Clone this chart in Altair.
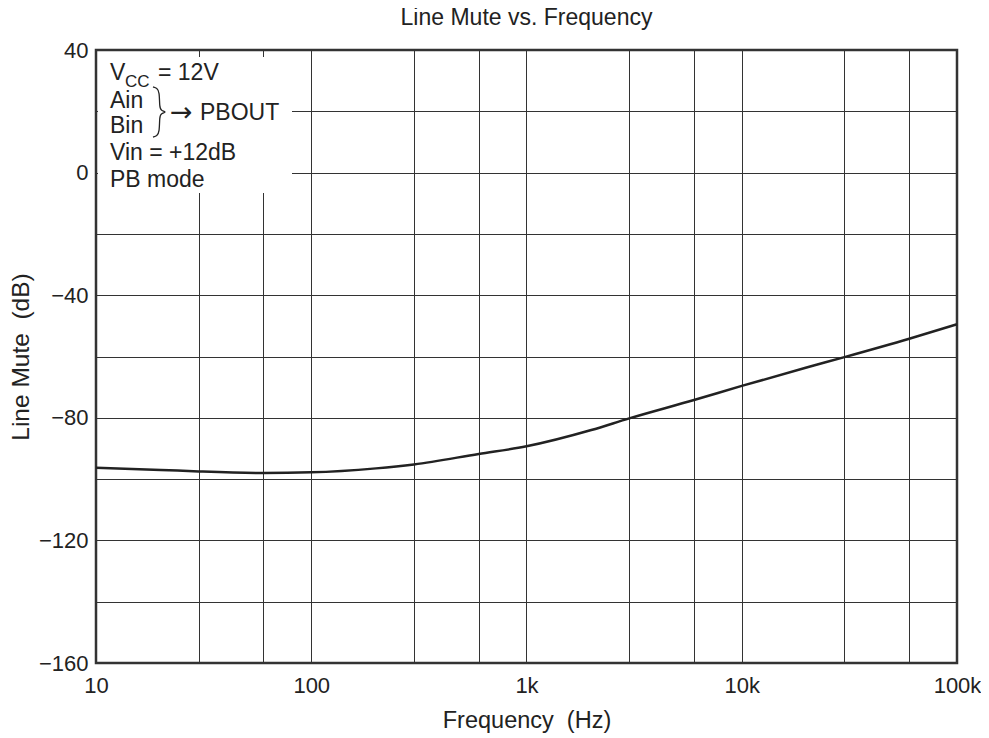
import altair as alt
import pandas as pd

# ---- data ----
freq_hz = [10, 20, 30, 60, 100, 200, 300, 600, 1000, 2000, 3000, 6000,
           10000, 20000, 30000, 60000, 100000]
line_mute_db = [-96.3, -97.0, -97.5, -98.0, -97.8, -96.5, -95.2, -91.8, -89.3,
                -84.0, -80.2, -74.2, -69.6, -63.6, -60.2, -54.2, -49.5]

x_grid = [10, 30, 60, 100, 300, 600, 1000, 3000, 6000, 10000, 30000, 60000, 100000]
y_grid = [-160, -140, -120, -100, -80, -60, -40, -20, 0, 20, 40]

chart_title = "Line Mute vs. Frequency"

ann_text = ["V", "CC", "= 12V", "Ain", "Bin", "PBOUT", "Vin = +12dB", "PB mode"]
ann_px = [14, 29, 62, 14, 14, 104, 14, 14]
ann_py = [30, 37, 30, 58, 83, 70, 110, 137]
ann_size = [23, 17, 23, 23, 23, 23, 23, 23]

# decorative brace outline (plot pixels)
brace_x = [57, 61, 63.5, 63.5, 65, 71, 65, 63.5, 63.5, 61, 57]
brace_y = [37, 38, 42, 57, 60.5, 62, 63.5, 67, 82, 86, 87]

FONT = "Liberation Sans"
INK = "#222222"
W, H = 861, 613
NB = "\u00a0"

df = pd.DataFrame({"f": freq_hz, "db": line_mute_db})

x_scale = alt.Scale(type="log", domain=[10, 100000], nice=False)
y_scale = alt.Scale(domain=[-160, 40], nice=False, zero=False)

x_label_expr = ("datum.value == 10 ? '10' : datum.value == 100 ? '100' : "
                "datum.value == 1000 ? '1k' : datum.value == 10000 ? '10k' : "
                "datum.value == 100000 ? '100k' : ''")

line = alt.Chart(df).mark_line(color=INK, strokeWidth=2.5, interpolate="monotone").encode(
    x=alt.X("f:Q", scale=x_scale,
            axis=alt.Axis(values=x_grid, labelExpr=x_label_expr, title="Frequency" + NB + NB + "(Hz)",
                          grid=True, gridColor="#333333", gridWidth=1, gridOpacity=1,
                          domain=False, ticks=False, labelPadding=12, labelFontSize=22,
                          labelFont=FONT, labelColor=INK, titleFont=FONT, titleFontSize=23.5,
                          titleFontWeight="normal", titleColor=INK, titlePadding=12,
                          labelFlush=False, labelOverlap=False)),
    y=alt.Y("db:Q", scale=y_scale,
            axis=alt.Axis(values=y_grid,
                          labelExpr="datum.value % 40 == 0 ? datum.label : ''",
                          title="Line Mute" + NB + NB + "(dB)",
                          grid=True, gridColor="#333333", gridWidth=1, gridOpacity=1,
                          domain=False, ticks=False, labelPadding=8, labelFontSize=22,
                          labelFont=FONT, labelColor=INK, titleFont=FONT, titleFontSize=24.5,
                          titleFontWeight="normal", titleColor=INK, titlePadding=5,
                          labelFlush=False, labelOverlap=False)),
)

box = alt.Chart(pd.DataFrame({"k": [0]})).mark_rect(fill="white").encode(
    x=alt.value(2), x2=alt.value(196), y=alt.value(7), y2=alt.value(143)
)

ann_df = pd.DataFrame({"t": ann_text, "px": ann_px, "py": ann_py, "s": ann_size})
ann = alt.Chart(ann_df).mark_text(align="left", baseline="alphabetic", font=FONT, color=INK).encode(
    x=alt.X("px:Q", scale=None),
    y=alt.Y("py:Q", scale=None),
    text="t:N",
    size=alt.Size("s:Q", scale=None, legend=None),
)

arrow = alt.Chart(pd.DataFrame({"t": ["\u2192"]})).mark_text(
    align="left", baseline="middle", font="DejaVu Sans", fontSize=27, color=INK
).encode(x=alt.value(74), y=alt.value(63), text="t:N")

brace_df = pd.DataFrame({"bx": brace_x, "by": brace_y, "o": list(range(len(brace_x)))})
brace = alt.Chart(brace_df).mark_line(color=INK, strokeWidth=1.3, interpolate="basis").encode(
    x=alt.X("bx:Q", scale=None),
    y=alt.Y("by:Q", scale=None),
    order="o:Q",
)

title_mark = alt.Chart(pd.DataFrame({"t": [chart_title]})).mark_text(
    align="center", baseline="alphabetic", font=FONT, fontSize=23, color=INK
).encode(x=alt.value(W / 2), y=alt.value(-25), text="t:N")

chart = alt.layer(line, box, ann, arrow, brace, title_mark).properties(
    width=W, height=H,
    autosize=alt.AutoSizeParams(type="none"),
    padding={"left": 88, "top": 42, "right": 24, "bottom": 72},
).configure_view(stroke="#333333", strokeWidth=2.5)

chart.save("out.html", embed_options={"renderer": "svg", "actions": False})
